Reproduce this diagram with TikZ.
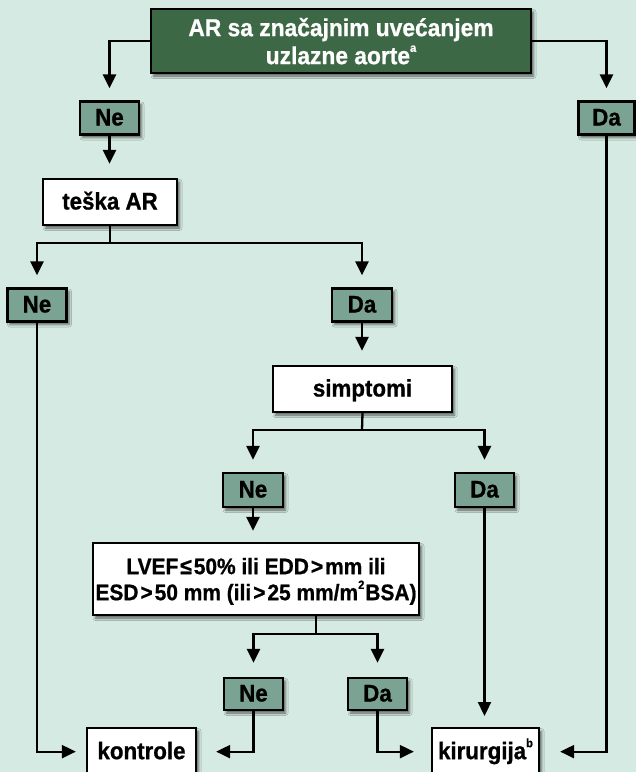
\documentclass[tikz,border=0pt]{standalone}
\usepackage{fontspec}
\setmainfont[FakeStretch=0.93, BoldFeatures={FakeBold=0.8}]{Liberation Sans}
\usetikzlibrary{arrows.meta,shadows.blur}
\definecolor{bgmint}{RGB}{213,234,226}
\definecolor{darkgreen}{RGB}{61,104,70}
\definecolor{labteal}{RGB}{122,163,148}
\newcommand\supx[1]{\raisebox{0.5em}{\fontsize{12}{12}\selectfont #1}}
\begin{document}
\begin{tikzpicture}[x=1pt,y=-1pt,
  box/.style={draw=black, line width=2.3pt, fill=white, inner sep=0pt, align=center,
    font=\bfseries\fontsize{24}{28}\selectfont,
    blur shadow={shadow xshift=2.5pt, shadow yshift=-3pt, shadow blur radius=2.5pt, shadow opacity=60}},
  onel/.style={box, text height=17pt, text depth=2pt},
  lab/.style={onel, fill=labteal, minimum width=59pt, minimum height=33pt},
  arr/.style={-{Triangle[width=13pt,length=14pt]}, line width=2.3pt, shorten >=12pt},
  ln/.style={line width=2.3pt}]

\useasboundingbox (0,0) rectangle (636,772);
\fill[bgmint] (0,0) rectangle (636,772);

% nodes
\node[box, fill=darkgreen, text=white, minimum width=380pt, minimum height=64pt,
      font=\bfseries\fontsize{24.5}{28}\selectfont, text depth=0pt] (top) at (341,41)
      {AR sa značajnim uvećanjem\\uzlazne aorte\supx{a}};
\node[lab] (NeA) at (109.5,118) {Ne};
\node[lab, minimum width=56pt] (DaA) at (606.5,118) {Da};
\node[onel, minimum width=134pt, minimum height=46pt] (teska) at (110,202) {teška AR};
\node[lab] (NeB) at (37,305) {Ne};
\node[lab, minimum width=60pt] (DaB) at (362,305) {Da};
\node[onel, minimum width=179pt, minimum height=46pt] (simp) at (362.5,389) {simptomi};
\node[lab, minimum width=60pt, minimum height=34pt] (NeC) at (253,490) {Ne};
\node[lab, minimum height=34pt] (DaC) at (484.5,490) {Da};
\node[box, minimum width=326pt, minimum height=72pt, text depth=0pt,
      font=\bfseries\fontsize{22.5}{26}\selectfont] (lvef) at (256,579)
      {LVEF\kern2pt≤\kern2pt50\% ili EDD\kern2pt>\kern2pt mm ili\\ESD\kern2pt>\kern2pt50 mm (ili\kern2pt>\kern2pt25 mm/m\supx{2}\kern1pt BSA)};
\node[lab, minimum height=32pt] (NeD) at (253.5,694) {Ne};
\node[lab, minimum height=32pt] (DaD) at (377.5,694) {Da};
\node[onel, anchor=north, minimum width=109pt, minimum height=47pt] (kont) at (141.5,727) {kontrole};
\node[onel, anchor=north, minimum width=107pt, minimum height=47pt] (kir) at (485.5,727) {kirurgija\supx{b}};

% junctions
\coordinate (j1) at (110,243);
\coordinate (j2) at (362,430);
\coordinate (j3) at (316,634);

% connectors
\draw[arr] (top.west) -| (NeA.north);
\draw[arr] (top.east) -| (DaA.north);
\draw[arr, shorten >=14pt] (NeA.south) -- (NeA.south |- teska.north);
\draw[ln] (teska.south) -- (j1);
\draw[arr] (j1) -| (NeB.north);
\draw[arr] (j1) -| (DaB.north);
\draw[arr, shorten >=14pt] (DaB.south) -- (DaB.south |- simp.north);
\draw[ln] (simp.south) -- (j2);
\draw[arr] (j2) -| (NeC.north);
\draw[arr] (j2) -| (DaC.north);
\draw[arr, shorten >=11pt] (NeC.south) -- (NeC.south |- lvef.north);
\draw[ln] (lvef.south -| j3) -- (j3);
\draw[arr, shorten >=14pt] (j3) -| (NeD.north);
\draw[arr, shorten >=14pt] (j3) -| (DaD.north);
\draw[arr, shorten >=10pt] (NeB.south) |- (kont.west);
\draw[arr, shorten >=19pt] (NeD.south) |- (kont.east);
\draw[arr, shorten >=17pt] (DaD.south) |- (kir.west);
\draw[arr, shorten >=11pt] (DaC.south) -- (DaC.south |- kir.north);
\draw[arr, shorten >=20pt] (DaA.south) |- (kir.east);
\end{tikzpicture}
\end{document}
